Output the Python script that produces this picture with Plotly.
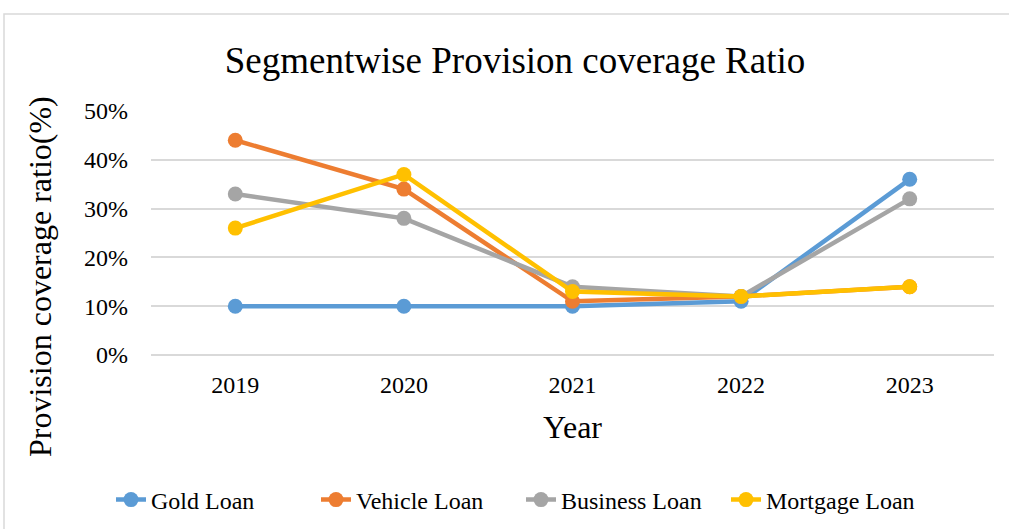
import plotly.graph_objects as go

years = ["2019", "2020", "2021", "2022", "2023"]
gold_loan = [0.10, 0.10, 0.10, 0.11, 0.36]
vehicle_loan = [0.44, 0.34, 0.11, 0.12, 0.14]
business_loan = [0.33, 0.28, 0.14, 0.12, 0.32]
mortgage_loan = [0.26, 0.37, 0.13, 0.12, 0.14]

series = [
    ("Gold Loan", gold_loan, "#5B9BD5"),
    ("Vehicle Loan", vehicle_loan, "#ED7D31"),
    ("Business Loan", business_loan, "#A5A5A5"),
    ("Mortgage Loan", mortgage_loan, "#FFC000"),
]

W, H = 1009, 529
ml, mr, mt, mb = 151, 15, 111, 174
pw, ph = W - ml - mr, H - mt - mb

fig = go.Figure()
for name, vals, color in series:
    fig.add_trace(go.Scatter(
        x=years, y=vals, name=name, mode="lines+markers",
        line=dict(color=color, width=4.5),
        marker=dict(color=color, size=15),
    ))

serif = "Liberation Serif, Times New Roman, serif"

def px_x(x):
    return (x - ml) / pw

def px_y(y):
    return (H - mb - y) / ph

fig.update_layout(
    width=W, height=H,
    margin=dict(l=ml, r=mr, t=mt, b=mb, autoexpand=False),
    paper_bgcolor="white", plot_bgcolor="white",
    font=dict(family=serif, color="black", size=24),
    title=dict(text="Segmentwise Provision coverage Ratio", x=515 / W, xanchor="center",
               y=1 - 60 / H, yanchor="middle", font=dict(size=37, family=serif)),
    xaxis=dict(type="category", range=[-0.5, 4.5], showgrid=False, ticks="", showline=False,
               tickfont=dict(size=24, family=serif), ticklabelstandoff=13,
               title=dict(text="Year", font=dict(size=32, family=serif), standoff=18)),
    yaxis=dict(range=[0, 0.5], dtick=0.1, tickformat=".0%", showgrid=True,
               gridcolor="#D9D9D9", gridwidth=1.5, zeroline=True, zerolinecolor="#D9D9D9",
               zerolinewidth=1.5, ticks="", tickfont=dict(size=24, family=serif),
               ticklabelstandoff=22),
    legend=dict(orientation="h", x=px_x(521), xanchor="center",
                y=px_y(500), yanchor="middle", entrywidth=160, entrywidthmode="pixels",
                font=dict(size=24, family=serif), traceorder="normal"),
    showlegend=True,
)

# Rotated y-axis title, centred on the chart height
fig.add_annotation(text="Provision coverage ratio(%)", textangle=-90,
                   xref="paper", yref="paper", x=px_x(40), y=px_y(277),
                   xanchor="center", yanchor="middle", showarrow=False,
                   font=dict(size=32, family=serif, color="black"))

fig.add_shape(type="rect", xref="paper", yref="paper",
              x0=px_x(4), x1=px_x(1009 + 5), y0=px_y(14), y1=px_y(529 + 5),
              line=dict(color="#D9D9D9", width=1.5), fillcolor="rgba(0,0,0,0)", layer="below")

fig.write_html("out.html")
